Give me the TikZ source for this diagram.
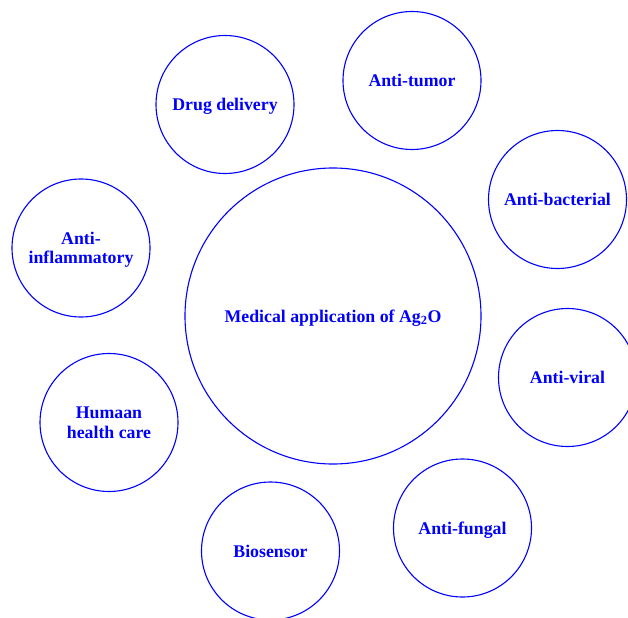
\documentclass[tikz,border=0pt]{standalone}
\usepackage{fontspec}
\setmainfont{Liberation Serif}
\colorlet{ringBorder}{blue}
\colorlet{ringText}{blue}
\tikzset{
ringstyle/.style={circle, draw=ringBorder, line width=1.1bp, inner sep=0pt, outer sep=0pt,
  minimum size=138bp, align=center, text=ringText, text depth=0pt,
  font=\bfseries\fontsize{17.8bp}{19.5bp}\selectfont},
hubstyle/.style={ringstyle, minimum size=296bp}
}
\begin{document}
\begin{tikzpicture}[x=1bp, y=-1bp]
\useasboundingbox (0,0) rectangle (628,618);

\node [hubstyle] (hub) at (333, 316) {Medical application of Ag\textsubscript{2}O};

\node [ringstyle] (drug) at (225, 104.5) {Drug delivery};
\node [ringstyle] (tumor) at (412, 80.5) {Anti-tumor};
\node [ringstyle] (bact) at (557.5, 199.5) {Anti-bacterial};
\node [ringstyle] (viral) at (567.5, 377.5) {Anti-viral};
\node [ringstyle] (fungal) at (462.5, 528) {Anti-fungal};
\node [ringstyle] (biosens) at (270.5, 551) {Biosensor};
\node [ringstyle] (health) at (109, 422.5) {Humaan\\health care};
\node [ringstyle] (inflam) at (81, 248) {Anti-\\inflammatory};

\end{tikzpicture}
\end{document}
